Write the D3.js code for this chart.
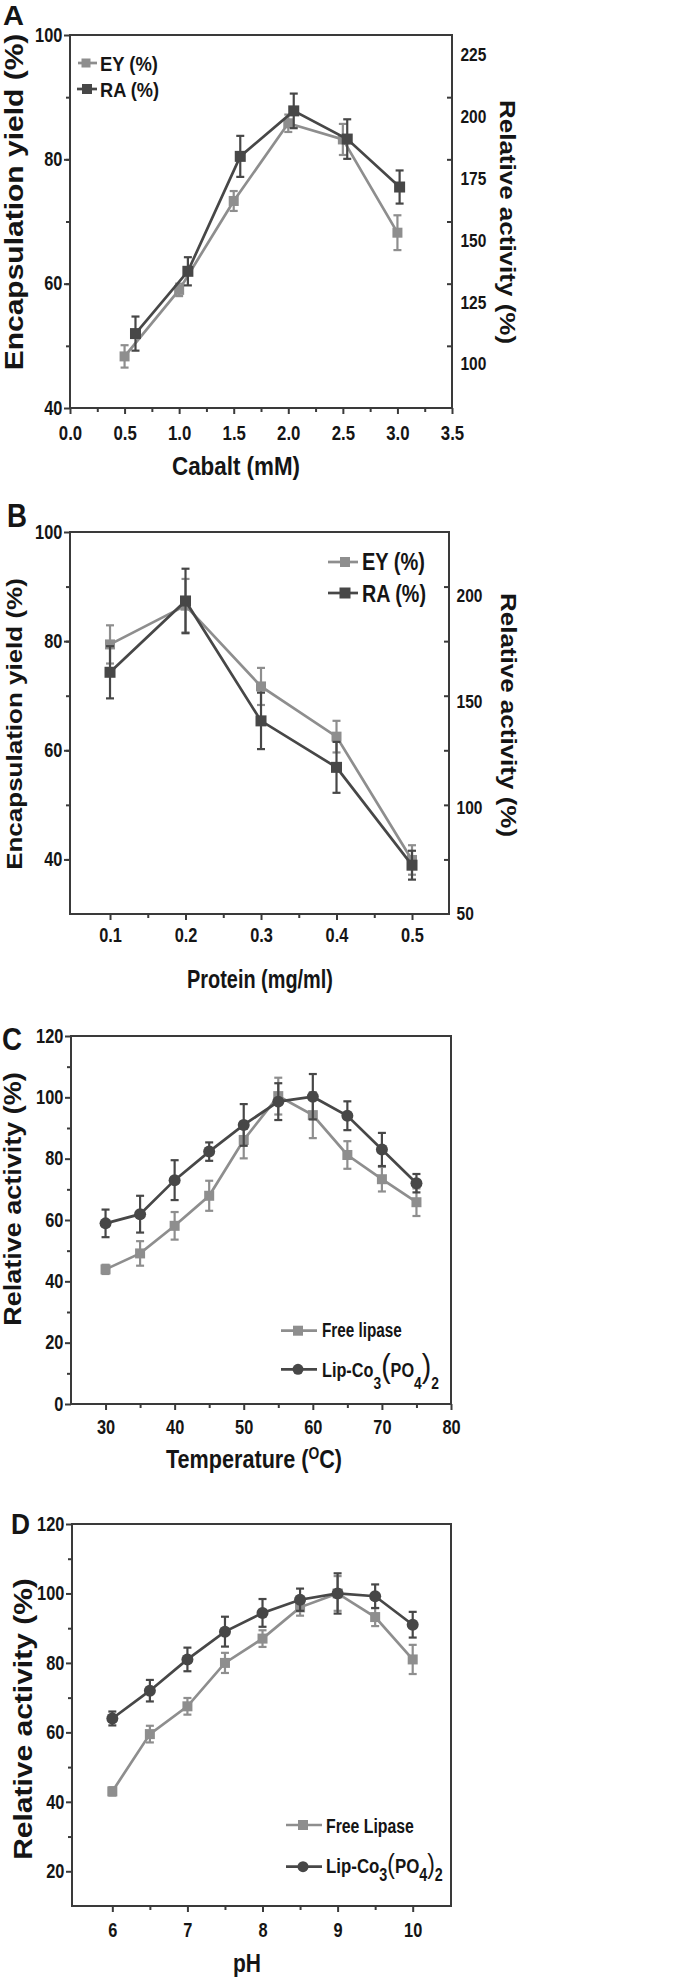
<!DOCTYPE html>
<html><head><meta charset="utf-8">
<script src="https://cdn.jsdelivr.net/npm/d3@7/dist/d3.min.js"></script>
<style>
html,body{margin:0;padding:0;background:#fff;}
svg text{font-family:"Liberation Sans",Arial,Helvetica,sans-serif;font-weight:bold;fill:#151515;}
</style></head><body>
<svg id="c" width="686" height="1983"></svg>
<script>
// ---------------- DATA ----------------
// Panel A : cobalt concentration
const cobaltEYx   = [0.5, 1.0, 1.5, 2.0, 2.5, 3.0];
const cobaltEY    = [48.3, 59.0, 73.3, 85.8, 83.2, 68.2];
const cobaltEYerr = [1.8, 1.0, 1.6, 1.4, 2.5, 2.8];
const cobaltRAx   = [0.6, 1.08, 1.56, 2.05, 2.54, 3.02];
const cobaltRA    = [112.3, 137.5, 184.0, 202.4, 191.0, 171.6];
const cobaltRAerr = [6.9, 5.7, 8.3, 7.0, 8.0, 6.7];
const cobaltXTicks = [0, 0.5, 1.0, 1.5, 2.0, 2.5, 3.0, 3.5];
const cobaltXMinor = [0.25, 0.75, 1.25, 1.75, 2.25, 2.75, 3.25];
const cobaltLeftTicks = [40, 60, 80, 100];
const cobaltLeftMinor = [50, 60, 70, 80, 90];
const cobaltRightTicks = [100, 125, 150, 175, 200, 225];

// Panel B : protein concentration
const proteinX = [0.1, 0.2, 0.3, 0.4, 0.5];
const proteinEY    = [79.4, 86.5, 71.7, 62.5, 39.9];
const proteinEYerr = [3.5, 4.9, 3.4, 2.9, 2.7];
const proteinRA    = [163.9, 197.5, 141.0, 119.1, 73.0];
const proteinRAerr = [12.3, 15.2, 13.3, 12.0, 6.8];
const proteinXTicks = [0.1, 0.2, 0.3, 0.4, 0.5];
const proteinXMinor = [0.15, 0.25, 0.35, 0.45];
const proteinLeftTicks = [40, 60, 80, 100];
const proteinLeftMinor = [40, 50, 60, 70, 80, 90];
const proteinRightTicks = [50, 100, 150, 200];

// Panel C : temperature
const tempX = [30, 35, 40, 45, 50, 55, 60, 65, 70, 75];
const tempFree    = [43.9, 49.1, 58.1, 67.9, 86.1, 100.4, 94.2, 81.2, 73.3, 65.8];
const tempFreeErr = [1.5, 4.0, 4.5, 4.9, 6.0, 6.0, 7.5, 4.5, 4.0, 4.5];
const tempLip     = [58.9, 61.9, 73.0, 82.3, 91.0, 98.6, 100.2, 94.0, 83.0, 72.0];
const tempLipErr  = [4.5, 6.0, 6.5, 3.0, 6.8, 6.0, 7.4, 4.7, 5.4, 3.0];
const tempXTicks = [30, 40, 50, 60, 70, 80];
const tempXMinor = [35, 45, 55, 65, 75];
const tempYTicks = [0, 20, 40, 60, 80, 100, 120];
const tempYMinor = [10, 30, 50, 70, 90, 110];

// Panel D : pH
const phX = [6, 6.5, 7, 7.5, 8, 8.5, 9, 9.5, 10];
const phFree    = [43.0, 59.5, 67.5, 80.0, 87.0, 96.0, 100.0, 93.2, 81.0];
const phFreeErr = [1.2, 2.4, 2.4, 2.9, 2.4, 2.4, 5.0, 2.6, 4.2];
const phLip     = [64.0, 72.0, 81.0, 89.0, 94.4, 98.2, 100.0, 99.2, 91.0];
const phLipErr  = [2.0, 3.1, 3.4, 4.3, 4.0, 3.2, 5.8, 3.4, 3.7];
const phXTicks = [6, 7, 8, 9, 10];
const phXMinor = [6.5, 7.5, 8.5, 9.5];
const phYTicks = [20, 40, 60, 80, 100, 120];
const phYMinor = [30, 50, 70, 90, 110];

// ---------------- STYLE ----------------
const AX = "#3a3a3a";
const LIGHT = "#8e8e8e";
const DARK = "#474747";
const SX = 0.84;   // horizontal squeeze of the condensed typeface

const svg = d3.select("#c");

function styleAxis(g, fs){
  g.select(".domain").remove();
  g.selectAll(".tick line").attr("stroke", AX).attr("stroke-width", 2);
  g.selectAll(".tick text").attr("fill", "#151515")
    .style("font-size", fs + "px").style("font-weight", "bold")
    .attr("transform", `scale(${SX},1)`);
}

function frame(g, x, y){
  const [x0, x1] = x.range(), [y0, y1] = y.range();
  g.append("rect").attr("x", x0).attr("y", y1).attr("width", x1 - x0).attr("height", y0 - y1)
    .attr("fill", "none").attr("stroke", AX).attr("stroke-width", 2);
}

function bottomAxis(g, x, y, ticks, minor, fmt, pad, fs){
  const yb = y.range()[0];
  g.append("g").attr("transform", `translate(0,${yb})`)
    .call(d3.axisBottom(x).tickValues(minor).tickFormat("").tickSize(4)).call(styleAxis, fs);
  g.append("g").attr("transform", `translate(0,${yb})`)
    .call(d3.axisBottom(x).tickValues(ticks).tickFormat(fmt).tickSize(6).tickPadding(pad)).call(styleAxis, fs);
}

function leftAxis(g, x, y, ticks, minor, fs){
  const xl = x.range()[0];
  g.append("g").attr("transform", `translate(${xl},0)`)
    .call(d3.axisLeft(y).tickValues(minor).tickFormat("").tickSize(4)).call(styleAxis, fs);
  g.append("g").attr("transform", `translate(${xl},0)`)
    .call(d3.axisLeft(y).tickValues(ticks).tickFormat(d3.format("d")).tickSize(6).tickPadding(3)).call(styleAxis, fs);
}

function rightAxis(g, x, yLeft, yRight, tickPos, labels, pad, fs){
  const xr = x.range()[1];
  g.append("g").attr("transform", `translate(${xr},0)`)
    .call(d3.axisRight(yLeft).tickValues(tickPos).tickFormat("").tickSize(-5)).call(styleAxis, fs);
  g.append("g").attr("transform", `translate(${xr},0)`)
    .call(d3.axisRight(yRight).tickValues(labels).tickFormat(d3.format("d")).tickSize(0).tickPadding(pad)).call(styleAxis, fs);
}

function series(g, x, y, xs, ys, errs, color, shape, size){
  const pts = xs.map((v, i) => ({x: v, y: ys[i], e: errs[i]}));
  const s = g.append("g");
  s.append("path").datum(pts)
    .attr("d", d3.line().x(d => x(d.x)).y(d => y(d.y)))
    .attr("fill", "none").attr("stroke", color).attr("stroke-width", 2.7);
  const eb = s.append("g").attr("stroke", color).attr("stroke-width", 2.2);
  eb.selectAll("line.v").data(pts).join("line").attr("class", "v")
    .attr("x1", d => x(d.x)).attr("x2", d => x(d.x))
    .attr("y1", d => y(d.y - d.e)).attr("y2", d => y(d.y + d.e));
  eb.selectAll("line.t").data(pts).join("line").attr("class", "t")
    .attr("x1", d => x(d.x) - 4).attr("x2", d => x(d.x) + 4)
    .attr("y1", d => y(d.y + d.e)).attr("y2", d => y(d.y + d.e));
  eb.selectAll("line.b").data(pts).join("line").attr("class", "b")
    .attr("x1", d => x(d.x) - 4).attr("x2", d => x(d.x) + 4)
    .attr("y1", d => y(d.y - d.e)).attr("y2", d => y(d.y - d.e));
  if (shape === "square") {
    s.selectAll("rect").data(pts).join("rect")
      .attr("x", d => x(d.x) - size / 2).attr("y", d => y(d.y) - size / 2)
      .attr("width", size).attr("height", size).attr("fill", color);
  } else {
    s.selectAll("circle").data(pts).join("circle")
      .attr("cx", d => x(d.x)).attr("cy", d => y(d.y)).attr("r", size / 2).attr("fill", color);
  }
}

function legendItem(g, x0, x1, xm, yc, color, shape, size){
  g.append("line").attr("x1", x0).attr("x2", x1).attr("y1", yc).attr("y2", yc)
    .attr("stroke", color).attr("stroke-width", 2.7);
  if (shape === "square") g.append("rect").attr("x", xm - size/2).attr("y", yc - size/2)
      .attr("width", size).attr("height", size).attr("fill", color);
  else g.append("circle").attr("cx", xm).attr("cy", yc).attr("r", size/2).attr("fill", color);
}

// text squeezed horizontally so that it spans `width` px (or fixed squeeze if width null)
function fitText(t, x, y, width){
  const w = t.node().getBBox().width;
  const k = width ? width / w : SX;
  t.attr("transform", `translate(${x},${y}) scale(${k},1)`);
  return t;
}

function hText(g, x, y, str, fs, width, anchor){
  const t = g.append("text").attr("text-anchor", anchor || "start").style("font-size", fs + "px").text(str);
  return fitText(t, x, y, width);
}

function vText(g, x, y, str, fs, rot){
  return g.append("text").attr("transform", `translate(${x},${y}) rotate(${rot}) scale(1,0.87)`)
    .attr("text-anchor", "middle").style("font-size", fs + "px").text(str);
}

function lipLabel(g, x, y, fs, parenScale, subDy, width){
  const t = g.append("text").style("font-size", fs + "px");
  t.append("tspan").text("Lip-Co");
  t.append("tspan").attr("dy", subDy).style("font-size", (fs * 0.85) + "px").text("3");
  t.append("tspan").attr("dy", -subDy).style("font-size", (fs * parenScale) + "px").style("font-weight", "normal").text("(");
  t.append("tspan").text("PO");
  t.append("tspan").attr("dy", subDy).style("font-size", (fs * 0.85) + "px").text("4");
  t.append("tspan").attr("dy", -subDy).style("font-size", (fs * parenScale) + "px").style("font-weight", "normal").text(")");
  t.append("tspan").attr("dy", subDy).style("font-size", (fs * 0.85) + "px").text("2");
  return fitText(t, x, y, width);
}

// ---------------- PANEL A ----------------
{
  const g = svg.append("g");
  const x = d3.scaleLinear().domain([0, 3.5]).range([70, 452]);
  const yL = d3.scaleLinear().domain([40, 100]).range([408, 35]);
  const yR = d3.scaleLinear().domain([82.2, 233.1]).range([408, 35]);
  frame(g, x, yL);
  bottomAxis(g, x, yL, cobaltXTicks, cobaltXMinor, d3.format(".1f"), 12, 20);
  leftAxis(g, x, yL, cobaltLeftTicks, cobaltLeftMinor, 19.5);
  rightAxis(g, x, yL, yR, cobaltLeftMinor, cobaltRightTicks, 10, 18.5);
  series(g, x, yL, cobaltEYx, cobaltEY, cobaltEYerr, LIGHT, "square", 10);
  series(g, x, yR, cobaltRAx, cobaltRA, cobaltRAerr, DARK, "square", 11);
  legendItem(g, 78, 97, 86, 63, LIGHT, "square", 9);
  legendItem(g, 77, 97, 87, 89, DARK, "square", 10);
  hText(g, 100, 70.5, "EY (%)", 21, 58);
  hText(g, 100, 96.5, "RA (%)", 21, 59);
  hText(g, 236, 475, "Cabalt (mM)", 25, 128, "middle");
  vText(g, 23, 202, "Encapsulation yield (%)", 30, -90);
  vText(g, 500, 222, "Relative activity (%)", 26, 90);
  hText(g, 3, 25, "A", 28, 21);
}

// ---------------- PANEL B ----------------
{
  const g = svg.append("g");
  const x = d3.scaleLinear().domain([0.047, 0.549]).range([70, 449]);
  const yL = d3.scaleLinear().domain([30, 100]).range([914, 532]);
  const yR = d3.scaleLinear().domain([50, 230]).range([914, 532]);
  frame(g, x, yL);
  bottomAxis(g, x, yL, proteinXTicks, proteinXMinor, d3.format(".1f"), 8, 19.5);
  leftAxis(g, x, yL, proteinLeftTicks, proteinLeftMinor, 19.5);
  rightAxis(g, x, yL, yR, proteinLeftMinor, proteinRightTicks, 9, 18.5);
  series(g, x, yL, proteinX, proteinEY, proteinEYerr, LIGHT, "square", 10);
  series(g, x, yR, proteinX, proteinRA, proteinRAerr, DARK, "square", 11);
  legendItem(g, 328, 358, 345, 562, LIGHT, "square", 10);
  legendItem(g, 328, 358, 345, 593, DARK, "square", 11);
  hText(g, 362, 570, "EY (%)", 23, 63);
  hText(g, 362, 602, "RA (%)", 23, 64);
  hText(g, 260, 988, "Protein (mg/ml)", 25, 146, "middle");
  vText(g, 22, 724, "Encapsulation yield (%)", 26, -90);
  vText(g, 501, 715, "Relative activity (%)", 26, 90);
  hText(g, 7, 527, "B", 33, 20);
}

// ---------------- PANEL C ----------------
{
  const g = svg.append("g");
  const x = d3.scaleLinear().domain([25, 80]).range([71, 451]);
  const y = d3.scaleLinear().domain([0, 120]).range([1404, 1036]);
  frame(g, x, y);
  bottomAxis(g, x, y, tempXTicks, tempXMinor, d3.format("d"), 10, 19.5);
  leftAxis(g, x, y, tempYTicks, tempYMinor, 19.5);
  series(g, x, y, tempX, tempFree, tempFreeErr, LIGHT, "square", 10);
  series(g, x, y, tempX, tempLip, tempLipErr, DARK, "circle", 12);
  legendItem(g, 281, 317, 298, 1330.7, LIGHT, "square", 10);
  legendItem(g, 281, 317, 298, 1369.3, DARK, "circle", 11);
  hText(g, 322, 1337.3, "Free lipase", 19.5, 80);
  lipLabel(g, 322, 1376.7, 19.5, 1.75, 12, 117);
  const t = g.append("text").attr("text-anchor", "middle").style("font-size", "25px");
  t.append("tspan").text("Temperature (");
  t.append("tspan").attr("dy", -9).style("font-size", "16px").text("O");
  t.append("tspan").attr("dy", 9).text("C)");
  fitText(t, 254, 1468, 176);
  vText(g, 20.5, 1199, "Relative activity (%)", 27, -90);
  hText(g, 2, 1050, "C", 32, 20);
}

// ---------------- PANEL D ----------------
{
  const g = svg.append("g");
  const x = d3.scaleLinear().domain([5.463, 10.51]).range([72, 451]);
  const y = d3.scaleLinear().domain([10, 120]).range([1906, 1524]);
  frame(g, x, y);
  bottomAxis(g, x, y, phXTicks, phXMinor, d3.format("d"), 11, 19.5);
  leftAxis(g, x, y, phYTicks, phYMinor, 19.5);
  series(g, x, y, phX, phFree, phFreeErr, LIGHT, "square", 10);
  series(g, x, y, phX, phLip, phLipErr, DARK, "circle", 12);
  legendItem(g, 286, 322, 303, 1825, LIGHT, "square", 10);
  legendItem(g, 286, 322, 303, 1866.7, DARK, "circle", 11);
  hText(g, 326, 1832.7, "Free Lipase", 21, 88);
  lipLabel(g, 326, 1873, 21, 1.35, 8, 117);
  hText(g, 247, 1972, "pH", 25, 28, "middle");
  vText(g, 32, 1719, "Relative activity (%)", 30, -90);
  hText(g, 11, 1534, "D", 30, 19);
}
</script>
</body></html>
